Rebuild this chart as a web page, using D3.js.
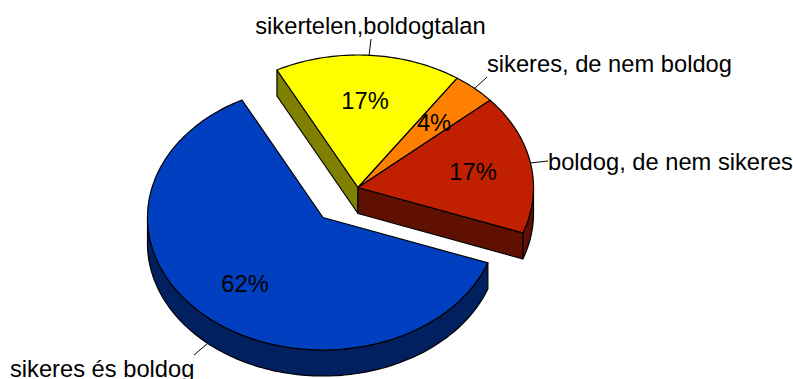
<!DOCTYPE html>
<html>
<head>
<meta charset="utf-8">
<script src="https://cdn.jsdelivr.net/npm/d3@7"></script>
<style>
    html, body { margin: 0; padding: 0; background: #fff; overflow: hidden; }
    text { font-family: "Liberation Sans", Arial, sans-serif; font-size: 23.7px; fill: #000; }
</style>
</head>
<body>
<svg id="chart" width="793" height="379"></svg>
<script>
"use strict";

//
// Data
//

var categories = ["sikertelen,boldogtalan", "sikeres, de nem boldog", "boldog, de nem sikeres", "sikeres és boldog"];
var values = [17.2, 4, 17, 61.8];
var percentLabels = ["17%", "4%", "17%", "62%"];
var topColors = ["#ffff00", "#ff8000", "#c02000", "#0040c0"];
var sideColors = ["#808000", "#804000", "#601000", "#002060"];

//
// Geometry of the tilted pie
//

var rx = 175.5, ry = 132.5, depth = 26;
var startAngle = -27.5 * Math.PI / 180;
var clusterCenter = [358, 187.5];
var blueCenter = [323, 217.5];
var centers = [clusterCenter, clusterCenter, clusterCenter, blueCenter];

var labelPos = [[370.5, 34, 371, 39, 369, 56],
                [487, 72, 487, 77, 474, 89],
                [548, 169.5, 548, 161, 530, 163],
                [10, 377, 194, 355, 207, 344]];
var percentPos = [[365, 109], [434, 131], [473, 180], [245, 292]];

var svg = d3.select("#chart");

var arcs = d3.pie()
    .sort(null)
    .startAngle(startAngle)
    .endAngle(startAngle + 2 * Math.PI)(values);

function pointAt (center, angle, drop) {
    return [center[0] + rx * Math.sin(angle), center[1] - ry * Math.cos(angle) + (drop || 0)];
}

// sample an elliptic rim between two angles
function rim (center, a0, a1, drop) {
    var n = Math.max(2, Math.ceil(Math.abs(a1 - a0) / 0.02)),
        pts = [];
    for (var i = 0; i <= n; i++) {
        pts.push(pointAt(center, a0 + (a1 - a0) * i / n, drop));
    }
    return pts;
}

var line = d3.line();

function wedgePath (d, i) {
    var c = centers[i];
    return line([c].concat(rim(c, d.startAngle, d.endAngle, 0))) + "Z";
}

// visible outer wall: the part of the rim on the front half (90deg to 270deg)
function outerWallPath (d, i) {
    var a0 = Math.max(d.startAngle, Math.PI / 2),
        a1 = Math.min(d.endAngle, 3 * Math.PI / 2);
    if (a1 <= a0) return null;
    var top = rim(centers[i], a0, a1, 0),
        bottom = rim(centers[i], a1, a0, depth);
    return line(top.concat(bottom)) + "Z";
}

// flat cut face between the centre and a rim point
function cutPath (center, angle) {
    var p = pointAt(center, angle, 0);
    return line([center, p, [p[0], p[1] + depth], [center[0], center[1] + depth]]) + "Z";
}

//
// Draw
//

var faces = svg.append("g").attr("stroke", "#000").attr("stroke-width", 1.2).attr("stroke-linejoin", "round");

// side walls first
faces.append("path").attr("d", cutPath(clusterCenter, arcs[0].startAngle)).attr("fill", sideColors[0]);
faces.append("path").attr("d", cutPath(clusterCenter, arcs[2].endAngle)).attr("fill", sideColors[2]);

arcs.forEach(function (d, i) {
    var wall = outerWallPath(d, i);
    if (wall) {
        faces.append("path").attr("d", wall).attr("fill", sideColors[i]);
    }
});

faces.selectAll("path.top")
    .data(arcs)
    .enter().append("path")
    .attr("class", "top")
    .attr("d", wedgePath)
    .attr("fill", function (d, i) { return topColors[i]; });

// leader lines
svg.append("g").selectAll("line")
    .data(labelPos)
    .enter().append("line")
    .attr("x1", function (d) { return d[2]; })
    .attr("y1", function (d) { return d[3]; })
    .attr("x2", function (d) { return d[4]; })
    .attr("y2", function (d) { return d[5]; })
    .attr("stroke", "#000")
    .attr("stroke-width", 1);

svg.append("g").selectAll("text")
    .data(categories)
    .enter().append("text")
    .attr("x", function (d, i) { return labelPos[i][0]; })
    .attr("y", function (d, i) { return labelPos[i][1]; })
    .attr("text-anchor", function (d, i) { return i === 0 ? "middle" : "start"; })
    .text(function (d) { return d; });

svg.append("g").selectAll("text")
    .data(percentLabels)
    .enter().append("text")
    .attr("x", function (d, i) { return percentPos[i][0]; })
    .attr("y", function (d, i) { return percentPos[i][1]; })
    .attr("text-anchor", "middle")
    .text(function (d) { return d; });
</script>
</body>
</html>
